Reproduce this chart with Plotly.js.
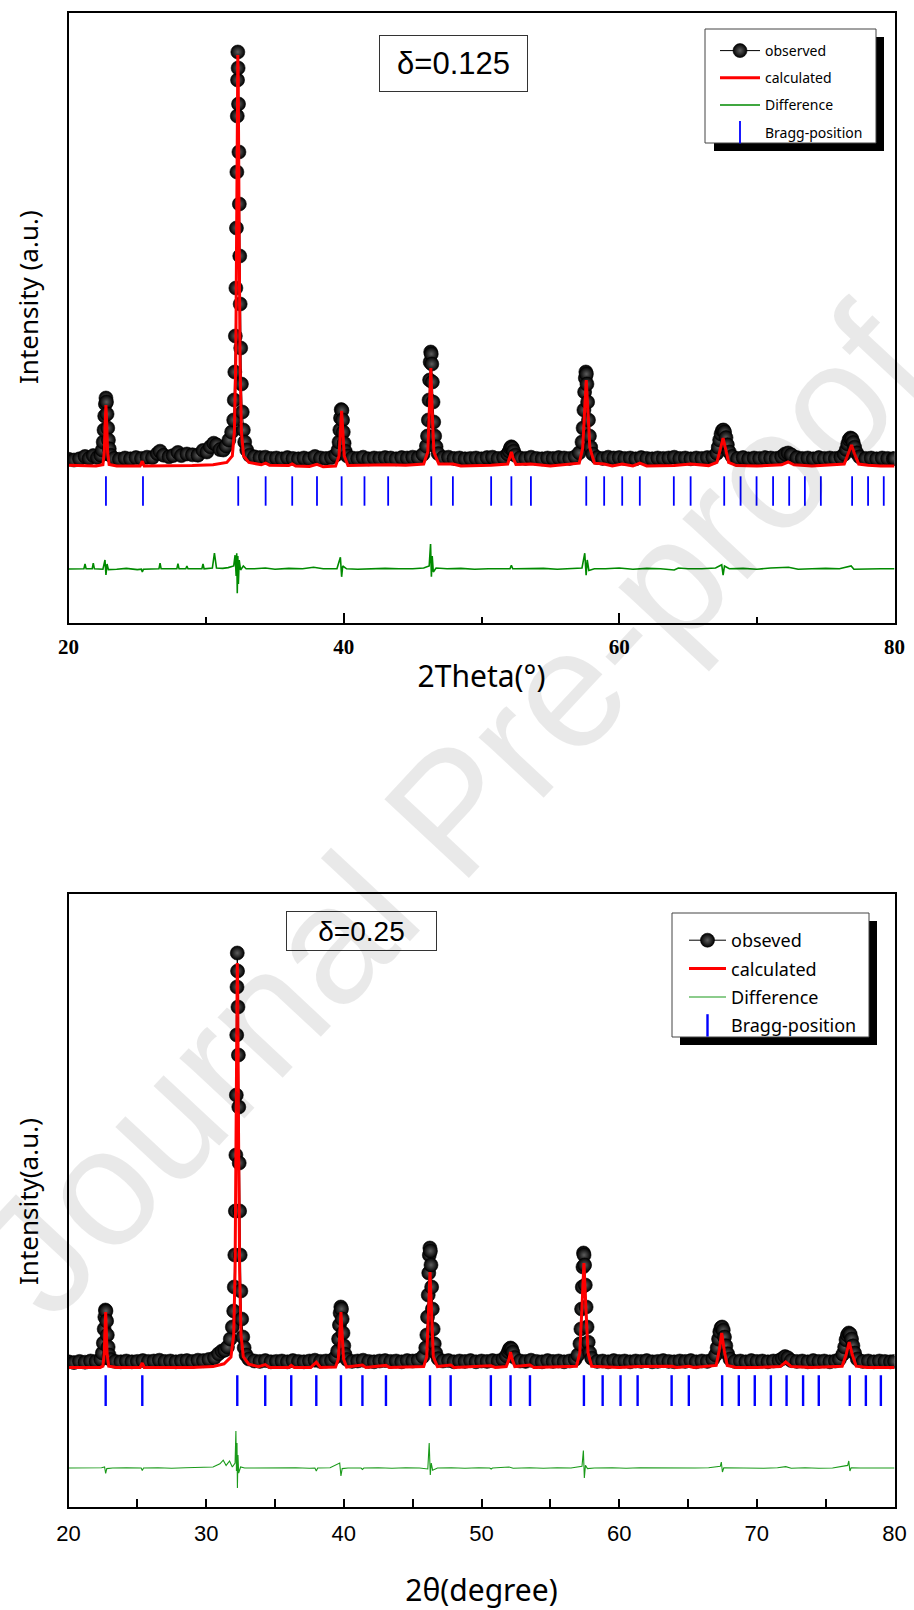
<!DOCTYPE html>
<html><head><meta charset="utf-8">
<script src="https://cdn.plot.ly/plotly-3.0.1.min.js"></script>
<style>html,body{margin:0;padding:0;background:#fff}#chart{width:914px;height:1610px}</style>
</head><body><div id="chart"></div><script>
// ---------- Panel 1 (delta = 0.125) ----------
const obsTop = [[20.0,20],[20.4,0],[20.8,30],[21.2,90],[21.5,40],[21.8,110],[22.1,60],[22.35,120],
[22.45,250],[22.52,450],[22.58,750],[22.63,1100],[22.68,1400],[22.72,1550],[22.76,1450],[22.80,1150],[22.85,800],[22.90,500],[22.96,280],[23.05,120],
[23.3,40],[23.7,20],[24.1,50],[24.5,30],[24.9,60],[25.3,40],[25.7,70],[26.1,60],[26.45,160],[26.65,220],[26.9,120],[27.3,80],[27.6,110],[27.95,190],[28.2,110],[28.6,150],[29.0,130],[29.4,120],[29.77,240],[30.05,200],[30.3,330],[30.55,420],[30.75,380],[31.0,260],[31.25,250],[31.45,350],[31.65,500],[31.85,700],
[32.00,1000],[32.04,1500],[32.08,2200],[32.12,3100],[32.16,4300],[32.20,5800],[32.23,7200],[32.26,8600],[32.28,9500],[32.30,10200],[32.32,9800],[32.35,8900],[32.38,7700],[32.41,6400],[32.44,5100],[32.47,3900],[32.51,2800],[32.56,1900],[32.62,1200],[32.70,750],[32.80,450],[32.95,250],[33.15,120],
[33.5,80],[33.9,60],[34.3,70],[34.7,40],[35.1,50],[35.5,30],[35.9,60],[36.3,40],[36.7,30],[37.1,50],[37.5,30],[37.9,90],[38.3,50],[38.7,40],[39.1,60],[39.4,120],
[39.58,250],[39.65,450],[39.71,750],[39.76,1050],[39.81,1260],[39.86,1240],[39.91,1000],[39.96,700],[40.02,420],[40.10,220],[40.25,100],
[40.6,50],[41.0,40],[41.4,70],[41.8,30],[42.2,50],[42.6,40],[43.0,60],[43.4,50],[43.8,30],[44.2,60],[44.6,50],[45.0,70],[45.4,60],[45.75,140],[46.0,350],
[46.08,600],[46.14,1000],[46.19,1500],[46.23,2000],[46.27,2450],[46.31,2700],[46.35,2650],[46.39,2400],[46.43,1950],[46.48,1450],[46.53,950],[46.60,600],[46.70,330],[46.85,160],
[47.2,60],[47.6,70],[48.0,40],[48.4,50],[48.8,30],[49.2,40],[49.6,50],[50.0,30],[50.4,60],[50.8,70],[51.2,40],[51.6,60],[51.9,150],
[52.02,220],[52.10,300],[52.17,330],[52.25,300],[52.33,220],[52.45,120],
[52.8,50],[53.2,40],[53.6,70],[54.0,40],[54.4,30],[54.8,50],[55.2,40],[55.6,60],[56.0,50],[56.4,40],[56.8,80],[57.1,180],[57.3,450],
[57.38,800],[57.44,1250],[57.49,1700],[57.54,2050],[57.58,2200],[57.62,2150],[57.66,1900],[57.71,1450],[57.77,1000],[57.84,600],[57.93,320],[58.08,150],
[58.4,60],[58.8,40],[59.2,70],[59.6,50],[60.0,60],[60.4,40],[60.8,50],[61.2,30],[61.6,60],[62.0,40],[62.4,30],[62.8,50],[63.2,40],[63.6,50],[64.0,70],[64.4,40],[64.8,50],[65.2,30],[65.6,50],[66.0,40],[66.4,60],[66.8,70],[67.1,170],
[67.2,320],[67.3,500],[67.4,650],[67.5,740],[67.58,750],[67.66,700],[67.76,560],[67.86,380],[68.0,200],[68.2,90],
[68.6,40],[69.0,60],[69.4,30],[69.8,50],[70.2,40],[70.6,60],[71.0,50],[71.4,40],[71.8,80],[72.05,150],[72.27,175],[72.5,130],[72.9,60],[73.3,40],[73.7,50],[74.1,30],[74.5,60],[74.9,40],[75.3,50],[75.7,40],[76.1,70],[76.35,140],
[76.5,260],[76.6,400],[76.7,510],[76.8,550],[76.9,530],[77.0,440],[77.1,320],[77.25,180],[77.45,80],
[77.9,40],[78.3,50],[78.7,30],[79.1,50],[79.5,40],[79.9,30],[80.0,40]];

const calcTop = [[20.0,-130],[21.0,-140],[22.0,-150],[22.5,-120],[22.6,200],[22.66,900],[22.72,1375],[22.78,900],[22.84,200],[22.95,-110],[23.5,-150],[25.2,-150],[25.36,-30],[25.5,-150],[27.0,-150],[29.0,-140],[30.5,-120],[31.5,-60],[31.9,100],[32.05,700],[32.15,2500],[32.22,6000],[32.28,9500],[32.30,10125],[32.33,9500],[32.39,6000],[32.46,2500],[32.56,700],[32.72,100],[33.1,-60],[34.0,-120],[34.32,-80],[34.6,-130],[36.0,-140],[36.25,-100],[36.5,-150],[37.5,-160],[38.05,-110],[38.5,-170],[39.4,-150],[39.65,100],[39.75,700],[39.84,1230],[39.93,700],[40.03,100],[40.3,-140],[41.5,-130],[43.2,-120],[44.5,-130],[45.8,-100],[46.1,200],[46.22,1200],[46.32,2300],[46.42,1200],[46.54,200],[46.9,-100],[47.92,-100],[48.5,-150],[50.7,-130],[51.9,-100],[52.05,50],[52.17,200],[52.29,50],[52.5,-110],[53.59,-100],[55.0,-150],[57.1,-80],[57.35,300],[57.5,1300],[57.61,2000],[57.72,1300],[57.87,300],[58.2,-80],[58.91,-100],[59.5,-150],[60.22,-100],[61.0,-150],[61.5,-80],[62.0,-150],[64.0,-140],[65.19,-100],[66.5,-140],[67.1,-60],[67.35,250],[67.55,550],[67.75,250],[67.95,-60],[68.5,-140],[70.0,-150],[71.8,-120],[72.27,-50],[72.7,-120],[74.0,-150],[76.35,-100],[76.65,150],[76.88,375],[77.1,150],[77.4,-100],[78.08,-130],[79.0,-150],[80.0,-150]];

const diffTop = [[20.0,-2725],[20.6,-2720],[21.12,-2720],[21.2,-2600],[21.28,-2720],[21.72,-2720],[21.8,-2580],[21.88,-2720],[22.5,-2730],[22.65,-2500],[22.72,-2875],[22.8,-2600],[22.9,-2740],[23.5,-2730],[24.2,-2710],[25.0,-2740],[25.3,-2730],[25.36,-2800],[25.45,-2730],[26.57,-2720],[26.65,-2580],[26.73,-2720],[27.87,-2720],[27.95,-2590],[28.03,-2720],[28.52,-2720],[28.6,-2650],[28.68,-2720],[29.69,-2720],[29.77,-2600],[29.85,-2720],[30.45,-2700],[30.6,-2330],[30.75,-2700],[31.2,-2710],[31.6,-2690],[32.0,-2650],[32.1,-2380],[32.18,-2900],[32.22,-2330],[32.26,-3330],[32.3,-2400],[32.34,-3100],[32.4,-2500],[32.5,-2750],[32.7,-2650],[32.9,-2720],[33.5,-2720],[34.3,-2700],[35.0,-2730],[36.0,-2710],[37.0,-2720],[37.8,-2680],[38.5,-2720],[39.5,-2720],[39.75,-2430],[39.84,-2920],[39.92,-2650],[40.2,-2720],[41.0,-2730],[42.0,-2720],[43.0,-2710],[44.0,-2720],[45.0,-2720],[45.8,-2700],[46.2,-2650],[46.3,-2100],[46.36,-2920],[46.42,-2400],[46.5,-2800],[46.7,-2700],[47.5,-2720],[48.5,-2710],[49.5,-2730],[50.5,-2720],[51.5,-2710],[52.07,-2720],[52.17,-2630],[52.27,-2720],[52.5,-2720],[53.5,-2720],[54.5,-2710],[55.5,-2730],[56.5,-2720],[57.3,-2700],[57.5,-2330],[57.6,-2880],[57.68,-2500],[57.8,-2760],[58.2,-2720],[59.0,-2720],[60.0,-2700],[61.0,-2730],[62.0,-2710],[63.0,-2720],[64.0,-2750],[64.3,-2700],[65.0,-2720],[66.0,-2720],[67.0,-2700],[67.45,-2620],[67.55,-2880],[67.65,-2650],[68.0,-2720],[69.0,-2710],[70.0,-2730],[71.0,-2700],[72.3,-2680],[73.0,-2730],[74.0,-2720],[75.0,-2710],[76.0,-2720],[76.85,-2650],[77.05,-2730],[78.0,-2720],[79.0,-2720],[80.0,-2720]];

const braggTop = [22.72,25.41,32.33,34.32,36.25,38.05,39.84,41.50,43.22,46.35,47.92,50.70,52.17,53.59,57.61,58.91,60.22,61.50,63.97,65.19,67.63,68.82,69.98,71.18,72.35,73.49,74.65,76.92,78.08,79.22];
const braggLevelTop = -775;

// ---------- Panel 2 (delta = 0.25) ----------
const obsBot = [[20.0,30],[20.4,10],[20.8,40],[21.2,20],[21.6,50],[22.0,40],[22.35,90],
[22.46,250],[22.53,500],[22.59,850],[22.64,1150],[22.68,1325],[22.72,1300],[22.77,1050],[22.82,700],[22.88,400],[22.95,200],[23.05,90],
[23.4,40],[23.8,30],[24.2,50],[24.6,30],[25.0,40],[25.4,60],[25.8,40],[26.2,50],[26.6,70],[27.0,40],[27.4,50],[27.8,30],[28.2,50],[28.6,60],[29.0,40],[29.4,70],[29.8,60],[30.2,90],[30.6,130],[30.9,230],[31.15,300],[31.35,320],[31.55,400],[31.75,600],[31.9,900],
[32.00,1300],[32.04,1900],[32.08,2700],[32.12,3800],[32.16,5200],[32.19,6700],[32.22,8200],[32.24,9400],[32.26,10250],[32.28,9800],[32.31,8900],[32.34,7700],[32.37,6400],[32.40,5000],[32.43,3800],[32.47,2700],[32.52,1800],[32.58,1100],[32.66,650],[32.76,380],[32.9,200],[33.1,100],
[33.5,50],[33.9,40],[34.3,60],[34.7,30],[35.1,40],[35.5,50],[35.9,30],[36.3,60],[36.7,40],[37.1,30],[37.5,50],[37.9,70],[38.3,40],[38.7,50],[39.1,60],[39.4,150],
[39.55,300],[39.62,600],[39.68,950],[39.73,1250],[39.78,1400],[39.83,1350],[39.88,1100],[39.94,750],[40.0,430],[40.08,220],[40.22,90],
[40.6,40],[41.0,50],[41.4,70],[41.8,40],[42.2,30],[42.6,50],[43.0,60],[43.4,40],[43.8,50],[44.2,30],[44.6,60],[45.0,50],[45.4,70],[45.75,160],[45.95,380],
[46.03,700],[46.08,1150],[46.13,1700],[46.17,2250],[46.21,2700],[46.25,2875],[46.29,2800],[46.33,2450],[46.38,1900],[46.43,1350],[46.49,850],[46.57,480],[46.68,250],[46.85,110],
[47.2,50],[47.6,60],[48.0,30],[48.4,50],[48.8,40],[49.2,60],[49.6,30],[50.0,50],[50.4,40],[50.8,60],[51.2,50],[51.55,90],[51.8,180],
[51.95,280],[52.03,350],[52.11,375],[52.19,350],[52.27,270],[52.4,140],
[52.8,50],[53.2,40],[53.6,70],[54.0,40],[54.4,30],[54.8,60],[55.2,40],[55.6,50],[56.0,30],[56.4,50],[56.8,90],[57.0,200],[57.15,480],
[57.22,850],[57.27,1350],[57.32,1900],[57.37,2400],[57.41,2750],[57.45,2700],[57.49,2450],[57.54,1950],[57.6,1400],[57.67,900],[57.75,520],[57.86,260],[58.0,120],
[58.4,40],[58.8,50],[59.2,30],[59.6,60],[60.0,40],[60.4,50],[60.8,30],[61.2,50],[61.6,40],[62.0,60],[62.4,30],[62.8,40],[63.2,60],[63.6,40],[64.0,30],[64.4,50],[64.8,40],[65.2,60],[65.6,30],[66.0,50],[66.4,40],[66.8,90],[67.0,200],
[67.12,380],[67.22,600],[67.31,780],[67.40,880],[67.48,900],[67.56,820],[67.65,650],[67.75,430],[67.88,230],[68.05,100],
[68.4,40],[68.8,50],[69.2,30],[69.6,60],[70.0,40],[70.4,50],[70.8,30],[71.2,50],[71.6,60],[71.85,110],[72.05,160],[72.25,130],[72.5,60],[72.9,40],[73.3,50],[73.7,30],[74.1,60],[74.5,40],[74.9,50],[75.3,30],[75.7,50],[76.0,90],[76.25,220],
[76.38,400],[76.48,580],[76.58,700],[76.68,750],[76.78,720],[76.88,600],[76.98,430],[77.1,250],[77.3,100],
[77.7,40],[78.1,50],[78.5,30],[78.9,50],[79.3,40],[79.7,30],[80.0,40]];

const calcBot = [[20.0,-110],[21.0,-110],[22.3,-110],[22.5,-80],[22.6,250],[22.65,800],[22.70,1275],[22.75,800],[22.8,250],[22.92,-80],[23.5,-110],[25.2,-110],[25.36,0],[25.5,-110],[27.0,-110],[29.0,-110],[30.5,-90],[31.3,-20],[31.8,150],[32.0,700],[32.1,2300],[32.18,5800],[32.24,9400],[32.26,10000],[32.29,9400],[32.35,5800],[32.43,2300],[32.53,700],[32.7,150],[33.1,-30],[33.8,-90],[34.29,-40],[34.6,-110],[36.0,-110],[36.18,-60],[36.4,-110],[37.6,-110],[38.0,20],[38.3,-110],[39.4,-100],[39.6,100],[39.7,700],[39.79,1275],[39.88,700],[39.98,100],[40.2,-100],[41.35,-50],[41.6,-110],[43.06,-60],[43.3,-110],[45.8,-90],[46.02,150],[46.14,1200],[46.26,2275],[46.38,1200],[46.5,150],[46.8,-90],[47.76,-50],[48.0,-110],[50.68,-70],[51.0,-110],[51.8,-90],[51.98,80],[52.11,275],[52.24,80],[52.42,-90],[53.52,-50],[53.8,-110],[56.9,-80],[57.14,250],[57.3,1400],[57.44,2500],[57.58,1400],[57.74,250],[58.0,-80],[58.8,-90],[60.0,-110],[61.34,-90],[63.81,-80],[64.2,-110],[65.06,-80],[65.4,-110],[67.05,-60],[67.26,300],[67.45,750],[67.64,300],[67.85,-60],[68.5,-110],[70.0,-110],[71.7,-90],[72.1,25],[72.5,-90],[74.0,-110],[76.2,-80],[76.48,200],[76.71,525],[76.94,200],[77.22,-80],[78.0,-110],[80.0,-110]];

const diffBot = [[20.0,-2625],[20.8,-2620],[21.6,-2630],[22.4,-2620],[22.62,-2600],[22.70,-2760],[22.78,-2640],[23.2,-2625],[24.2,-2620],[25.28,-2625],[25.36,-2690],[25.45,-2625],[26.5,-2620],[27.5,-2630],[28.5,-2620],[29.5,-2610],[30.5,-2600],[31.0,-2520],[31.24,-2430],[31.45,-2560],[31.7,-2450],[31.9,-2600],[32.1,-2500],[32.16,-1700],[32.2,-2700],[32.24,-2000],[32.27,-3125],[32.31,-2300],[32.36,-2750],[32.5,-2600],[32.8,-2625],[33.5,-2625],[34.5,-2620],[35.5,-2630],[36.5,-2620],[37.5,-2630],[37.9,-2625],[38.0,-2700],[38.1,-2625],[39.0,-2620],[39.7,-2500],[39.79,-2825],[39.88,-2640],[40.3,-2625],[41.25,-2625],[41.35,-2660],[41.45,-2625],[42.5,-2620],[43.5,-2630],[44.5,-2620],[45.5,-2625],[46.1,-2650],[46.2,-2000],[46.28,-2800],[46.35,-2500],[46.45,-2680],[46.8,-2625],[47.8,-2620],[48.8,-2630],[49.8,-2620],[50.6,-2625],[50.7,-2650],[50.8,-2625],[52.0,-2600],[52.3,-2630],[53.5,-2620],[54.5,-2630],[55.5,-2620],[56.5,-2625],[57.3,-2580],[57.4,-2190],[57.47,-2875],[57.55,-2560],[57.7,-2640],[58.2,-2625],[59.5,-2620],[60.5,-2630],[61.5,-2620],[62.5,-2625],[63.5,-2630],[64.5,-2620],[65.5,-2625],[66.5,-2620],[67.35,-2580],[67.42,-2475],[67.5,-2725],[67.6,-2620],[68.5,-2625],[69.5,-2620],[70.5,-2630],[71.5,-2620],[72.1,-2590],[72.5,-2630],[73.5,-2620],[74.5,-2630],[75.5,-2625],[76.6,-2560],[76.68,-2450],[76.76,-2700],[76.85,-2620],[77.5,-2625],[78.5,-2620],[79.5,-2625],[80.0,-2625]];

const braggBot = [22.70,25.36,32.26,34.29,36.18,38.00,39.79,41.35,43.06,46.26,47.76,50.68,52.11,53.52,57.44,58.80,60.10,61.34,63.81,65.06,67.48,68.69,69.85,71.02,72.16,73.36,74.50,76.75,77.92,79.01];
const braggLevelBot = -690;

// axis ticks / labels
const xTicksTop = [20,40,60,80];
const xMinorTop = [30,50,70];
const xTicksBot = [20,30,40,50,60,70,80];
const xMinorBot = [25,35,45,55,65,75];
const legendTop = ['observed','calculated','Difference','Bragg-position'];
const legendBot = ['obseved','calculated','Difference','Bragg-position'];

// ---------- build ----------
const W = 914, H = 1610;
const px = v => v / W, py = v => 1 - v / H;
const xs = a => a.map(p => p[0]), ys = a => a.map(p => p[1]);

function panel(obs, calc, diff, bragg, level, names, xa, ya, lg, cfg) {
  return [
    {x: xs(obs), y: ys(obs), xaxis: xa, yaxis: ya, legend: lg, legendgroup: lg+'o', name: names[0],
     type: 'scatter', mode: 'lines+markers', line: {color: '#000', width: 1},
     marker: {size: cfg.ms, color: '#000', gradient: {type: 'radial', color: '#5e5e5e'}, line: {color: '#000', width: 0.6}}},
    {x: xs(calc), y: ys(calc), xaxis: xa, yaxis: ya, legend: lg, legendgroup: lg+'c', name: names[1],
     type: 'scatter', mode: 'lines', line: {color: '#ff0000', width: 3}},
    {x: xs(diff), y: ys(diff), xaxis: xa, yaxis: ya, legend: lg, legendgroup: lg+'d', name: names[2],
     type: 'scatter', mode: 'lines', line: {color: cfg.green, width: cfg.gw}},
    {x: bragg, y: bragg.map(() => level), xaxis: xa, yaxis: ya, legend: lg, legendgroup: lg+'b', name: names[3],
     type: 'scatter', mode: 'markers',
     marker: {symbol: 'line-ns-open', size: cfg.bs, color: '#0000ff', line: {color: '#0000ff', width: cfg.bw}}}
  ];
}

const data = [].concat(
  panel(obsTop, calcTop, diffTop, braggTop, braggLevelTop, legendTop, 'x', 'y', 'legend',
        {ms: 14, green: '#008a00', gw: 1.6, bs: 21, bw: 1.8}),
  panel(obsBot, calcBot, diffBot, braggBot, braggLevelBot, legendBot, 'x2', 'y2', 'legend2',
        {ms: 14, green: '#1a9a1a', gw: 1.1, bs: 22, bw: 2.4})
);

const titleFont = {family: 'Noto Sans, DejaVu Sans, sans-serif', size: 30, color: '#000'};
const axisCommon = {showline: true, linewidth: 2, linecolor: '#000', mirror: true, showgrid: false, zeroline: false, automargin: false};

const layout = {
  width: W, height: H, margin: {l: 0, r: 0, t: 0, b: 0},
  paper_bgcolor: '#fff', plot_bgcolor: 'rgba(0,0,0,0)', showlegend: true,
  xaxis: Object.assign({}, axisCommon, {
    domain: [px(68.5), px(894.5)], anchor: 'y', range: [20, 80],
    tickmode: 'array', tickvals: xTicksTop, ticks: 'inside', ticklen: 10, tickwidth: 2, tickcolor: '#000',
    minor: {tickmode: 'array', tickvals: xMinorTop, ticks: 'inside', ticklen: 6, tickwidth: 2, tickcolor: '#000'},
    tickfont: {family: 'Liberation Serif, DejaVu Serif, serif', size: 21, color: '#000', weight: 'bold'},
    ticklabelstandoff: 4,
    title: {text: '2Theta(°)', font: titleFont, standoff: 8}
  }),
  yaxis: Object.assign({}, axisCommon, {
    domain: [py(623), py(12.5)], anchor: 'x', range: [-4075, 11187.5],
    showticklabels: false, ticks: ''
  }),
  xaxis2: Object.assign({}, axisCommon, {
    domain: [px(68.5), px(894.5)], anchor: 'y2', range: [20, 80],
    tickmode: 'array', tickvals: xTicksBot, ticks: 'inside', ticklen: 8, tickwidth: 2, tickcolor: '#000',
    minor: {tickmode: 'array', tickvals: xMinorBot, ticks: 'inside', ticklen: 8, tickwidth: 2, tickcolor: '#000'},
    tickfont: {family: 'Liberation Sans Narrow, Liberation Sans, Arial, sans-serif', size: 22, color: '#000'},
    ticklabelstandoff: 6,
    title: {text: '2θ(degree)', font: titleFont, standoff: 36}
  }),
  yaxis2: Object.assign({}, axisCommon, {
    domain: [py(1507), py(894)], anchor: 'x2', range: [-3600, 11725],
    showticklabels: false, ticks: ''
  }),
  legend: {x: px(715), y: py(35), xanchor: 'left', yanchor: 'top', bgcolor: 'rgba(0,0,0,0)', borderwidth: 0,
           font: {family: 'Noto Sans, DejaVu Sans, sans-serif', size: 14, color: '#000'},
           itemwidth: 40, traceorder: 'grouped', tracegroupgap: 6},
  legend2: {x: px(684), y: py(922), xanchor: 'left', yanchor: 'top', bgcolor: 'rgba(0,0,0,0)', borderwidth: 0,
           font: {family: 'Noto Sans, DejaVu Sans, sans-serif', size: 18, color: '#000'},
           itemwidth: 37, traceorder: 'grouped', tracegroupgap: 2},
  shapes: [
    {type: 'rect', xref: 'paper', yref: 'paper', x0: px(714), x1: px(884), y0: py(151), y1: py(37), fillcolor: '#000', line: {width: 0}, layer: 'above'},
    {type: 'rect', xref: 'paper', yref: 'paper', x0: px(705), x1: px(876), y0: py(143), y1: py(29), fillcolor: '#fff', line: {color: '#444', width: 1}, layer: 'above'},
    {type: 'rect', xref: 'paper', yref: 'paper', x0: px(680), x1: px(877), y0: py(1045), y1: py(921), fillcolor: '#000', line: {width: 0}, layer: 'above'},
    {type: 'rect', xref: 'paper', yref: 'paper', x0: px(672), x1: px(869), y0: py(1037), y1: py(913), fillcolor: '#fff', line: {color: '#444', width: 1}, layer: 'above'}
  ],
  annotations: [
    {text: 'Intensity (a.u.)', xref: 'paper', yref: 'paper', x: px(28), y: py(297), xanchor: 'center', yanchor: 'middle', showarrow: false,
     textangle: -90, font: {family: 'Noto Sans, DejaVu Sans, sans-serif', size: 26, color: '#000'}},
    {text: 'Intensity(a.u.)', xref: 'paper', yref: 'paper', x: px(28), y: py(1202), xanchor: 'center', yanchor: 'middle', showarrow: false,
     textangle: -90, font: {family: 'Noto Sans, DejaVu Sans, sans-serif', size: 26, color: '#000'}},
    {text: 'δ=0.125', xref: 'paper', yref: 'paper', x: px(453.5), y: py(63.5), xanchor: 'center', yanchor: 'middle', showarrow: false,
     font: {family: 'Liberation Sans, Arial, sans-serif', size: 31, color: '#000'}, bgcolor: '#fff', bordercolor: '#333', borderwidth: 1, borderpad: 0, width: 147, height: 55},
    {text: 'δ=0.25', xref: 'paper', yref: 'paper', x: px(361), y: py(931), xanchor: 'center', yanchor: 'middle', showarrow: false,
     font: {family: 'Liberation Sans, Arial, sans-serif', size: 28, color: '#000'}, bgcolor: '#fff', bordercolor: '#333', borderwidth: 1, borderpad: 0, width: 149, height: 38},
    {text: 'Journal Pre-proof', xref: 'paper', yref: 'paper', x: px(452), y: py(811), xanchor: 'center', yanchor: 'middle', showarrow: false,
     textangle: -47, font: {family: 'Liberation Sans, Arial, sans-serif', size: 168, color: 'rgba(0,0,0,0.085)'}}
  ]
};

Plotly.newPlot('chart', data, layout, {displayModeBar: false, staticPlot: true});
</script></body></html>
